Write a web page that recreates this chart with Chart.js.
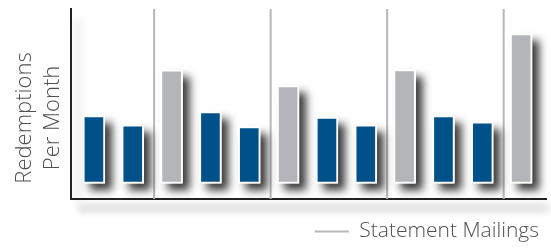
<!DOCTYPE html>
<html><head><meta charset="utf-8">
<script src="https://cdn.jsdelivr.net/npm/chart.js@4/dist/chart.umd.min.js"></script>
<style>html,body{margin:0;padding:0;background:#fff;overflow:hidden}#wrap{width:551px;height:248px;position:relative}</style>
</head><body><div id="wrap"><canvas id="c" width="551" height="248"></canvas></div>
<script>
// ---- data ----
const months = [1, 2, 3, 4, 5, 6, 7, 8, 9, 10, 11, 12];
const redemptions = [38.8, 33.6, 65.1, 41.1, 32.5, 56.1, 38.0, 33.6, 65.3, 38.8, 35.2, 85.9];
const mailingMonths = [3, 6, 9, 12];
const yTitleLines = ['Redemptions', 'Per Month'];
const legendLabel = 'Statement Mailings';
const yMin = -9, yMax = 100;

// ---- styles ----
const BLUE = '#00508a';
const GRAY = '#b3b5b8';
const LINE_GRAY = '#b6b7ba';
const TEXT = '#505050';
const FONT = '"Open Sans", "DejaVu Sans", sans-serif';

const barShadow = {
  id: 'barShadow',
  beforeDatasetDraw(chart, args) {
    if (args.meta.type !== 'bar') return;
    const ctx = chart.ctx;
    ctx.save();
    ctx.shadowColor = 'rgba(25,25,25,0.85)';
    ctx.shadowBlur = 8;
    ctx.shadowOffsetX = 7;
    ctx.shadowOffsetY = 7;
    ctx.fillStyle = '#fff';
    args.meta.data.forEach(el => {
      const p = el.getProps(['x', 'y', 'base', 'width'], true);
      ctx.fillRect(p.x - p.width / 2, p.y, p.width, p.base - p.y);
    });
    ctx.restore();
  }
};

const axisShadow = {
  id: 'axisShadow',
  beforeDraw(chart) {
    const ctx = chart.ctx, a = chart.chartArea;
    ctx.save();
    ctx.strokeStyle = '#000';
    ctx.lineWidth = 4;
    ctx.shadowColor = 'rgba(0,0,0,0.28)';
    ctx.shadowBlur = 8;
    ctx.shadowOffsetX = 3;
    ctx.shadowOffsetY = 10000 + 9;
    ctx.beginPath();
    ctx.moveTo(a.left + 4, a.bottom - 10000);
    ctx.lineTo(a.right, a.bottom - 10000);
    ctx.stroke();
    ctx.shadowColor = 'rgba(0,0,0,0.12)';
    ctx.shadowOffsetX = 10000 + 7;
    ctx.shadowOffsetY = 6;
    ctx.beginPath();
    ctx.moveTo(a.left - 10000, a.top + 4);
    ctx.lineTo(a.left - 10000, a.bottom - 4);
    ctx.stroke();
    ctx.restore();
  }
};

const yTitle = {
  id: 'yTitle',
  afterDraw(chart) {
    const ctx = chart.ctx;
    ctx.save();
    ctx.fillStyle = TEXT;
    ctx.font = '300 22px ' + FONT;
    ctx.textAlign = 'center';
    ctx.textBaseline = 'alphabetic';
    ctx.translate(0, 118);
    ctx.rotate(-Math.PI / 2);
    ctx.fillText(yTitleLines[0], 0, 31);
    ctx.fillText(yTitleLines[1], 0, 59);
    ctx.restore();
  }
};

new Chart(document.getElementById('c'), {
  data: {
    datasets: [
      {
        type: 'bar',
        label: 'Redemptions',
        data: months.map((m, i) => ({ x: m, y: redemptions[i] })),
        backgroundColor: months.map(m => mailingMonths.includes(m) ? GRAY : BLUE),
        borderColor: '#ffffff',
        borderWidth: 2,
        borderSkipped: false,
        barThickness: 22,
        order: 1
      },
      {
        type: 'line',
        label: legendLabel,
        data: mailingMonths.flatMap(m => [
          { x: m - 0.45, y: yMin }, { x: m - 0.45, y: yMax }, { x: m - 0.45, y: null }
        ]),
        borderColor: LINE_GRAY,
        backgroundColor: LINE_GRAY,
        borderWidth: 2,
        pointRadius: 0,
        spanGaps: false,
        fill: false,
        order: 2
      }
    ]
  },
  options: {
    responsive: false,
    animation: false,
    devicePixelRatio: 1,
    layout: { padding: { top: 9, left: 71, right: 5, bottom: -4 } },
    plugins: {
      tooltip: { enabled: false },
      legend: {
        position: 'bottom',
        align: 'end',
        labels: {
          filter: item => item.text === legendLabel,
          usePointStyle: true,
          pointStyle: 'line',
          pointStyleWidth: 34,
          color: TEXT,
          font: { family: FONT, size: 21, weight: '300' },
          padding: 7
        }
      }
    },
    scales: {
      x: {
        type: 'linear', min: 0.41, max: 12.64, offset: false,
        grid: { display: false, drawTicks: false },
        ticks: { display: false },
        border: { display: true, color: '#222', width: 2 },
        afterFit: s => { s.height = 15; }
      },
      y: {
        min: yMin, max: yMax,
        grid: { display: false, drawTicks: false },
        ticks: { display: false },
        border: { display: true, color: '#222', width: 2 }
      }
    }
  },
  plugins: [axisShadow, barShadow, yTitle]
});
</script></body></html>
